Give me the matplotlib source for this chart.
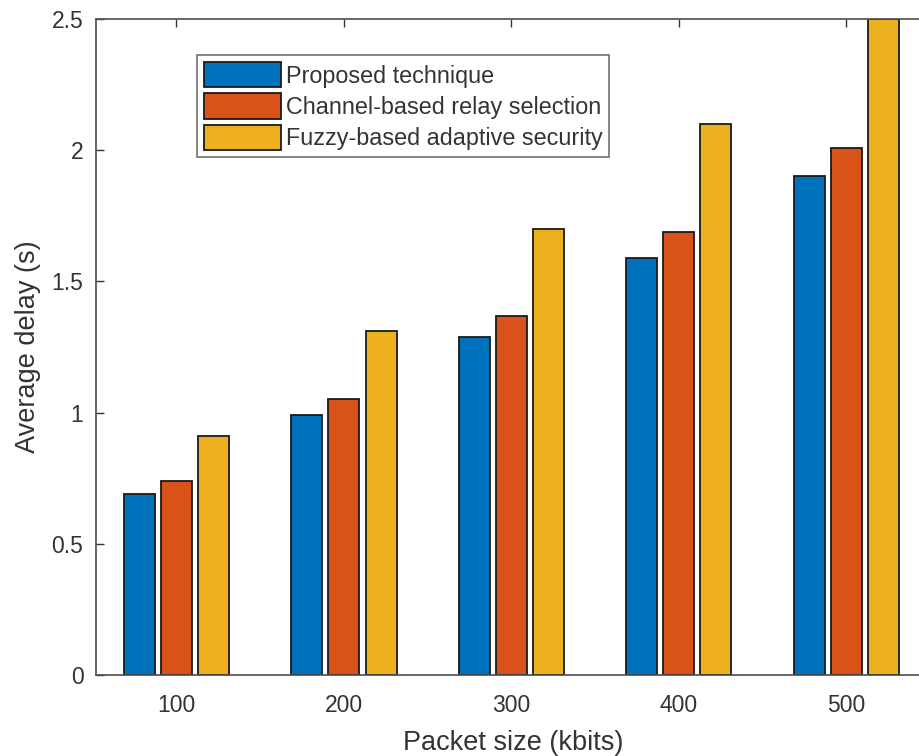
#!/usr/bin/env python3
"""Average delay vs packet size, grouped bars per technique."""

import numpy as np
import matplotlib
matplotlib.use('Agg')
import matplotlib.pyplot as plt

plt.rcParams['font.family'] = ['Liberation Sans', 'DejaVu Sans']

packet_sizes = ["100", "200", "300", "400", "500"]
proposed = [0.69, 0.99, 1.29, 1.59, 1.90]
channel_relay = [0.74, 1.05, 1.37, 1.69, 2.01]
fuzzy_adaptive = [0.91, 1.31, 1.70, 2.10, 2.50]

series_names = ["Proposed technique",
                "Channel-based relay selection",
                "Fuzzy-based adaptive security"]
COLORS = ["#0072BD", "#D95319", "#EDB120"]
TXT = "#333333"

fig = plt.figure(figsize=(9.19, 7.56), dpi=100)
ax = fig.add_axes([96 / 919, 1 - 675 / 756, 834 / 919, (675 - 19) / 756])

x = np.arange(1, len(packet_sizes) + 1)
offset = 0.222
width = 0.185
for i, (vals, name, color) in enumerate(zip([proposed, channel_relay, fuzzy_adaptive],
                                            series_names, COLORS)):
    ax.bar(x + (i - 1) * offset, vals, width, color=color, edgecolor="#1a1a1a",
           linewidth=1.3, label=name, zorder=2)

ax.set_xlim(0.52, 5.5)
ax.set_ylim(0, 2.5)
ax.set_xticks(x)
ax.set_xticklabels(packet_sizes)
ax.set_yticks([0, 0.5, 1, 1.5, 2, 2.5])
ax.set_yticklabels(["0", "0.5", "1", "1.5", "2", "2.5"])
ax.tick_params(direction="in", length=6, width=1, colors=TXT, labelsize=16.5,
               top=True, right=True)
ax.tick_params(axis="x", pad=14)
ax.tick_params(axis="y", pad=9)
for sp in ax.spines.values():
    sp.set_color("#4d4d4d")
    sp.set_linewidth(1.2)
    sp.set_zorder(3)

ax.set_xlabel("Packet size (kbits)", fontsize=19.5, color=TXT, labelpad=9)
ax.set_ylabel("Average delay (s)", fontsize=19.5, color=TXT, labelpad=8)

leg = ax.legend(loc="upper left", bbox_to_anchor=(101 / 834, 1 - 36 / 656),
                fontsize=16.8, frameon=True, fancybox=False, edgecolor="#4d4d4d",
                handlelength=3.3, handleheight=1.3, handletextpad=0.2,
                labelspacing=0.25, borderpad=0.3, borderaxespad=0)
leg.get_frame().set_linewidth(1.2)
for t in leg.get_texts():
    t.set_color(TXT)

fig.savefig("out.png", dpi=100)
